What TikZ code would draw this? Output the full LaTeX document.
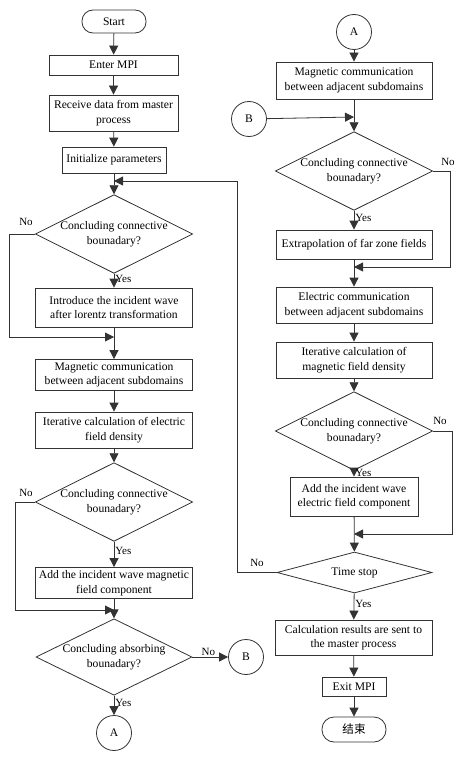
\documentclass[tikz,border=0pt]{standalone}
\usepackage{fontspec}
\setmainfont{Liberation Serif}
\newfontfamily\cjk{Noto Sans CJK SC}
\usetikzlibrary{shapes.geometric,arrows.meta}
\begin{document}
\begin{tikzpicture}[x=1pt,y=-1pt,
  font=\fontsize{11.6}{14.5}\selectfont,
  every node/.style={text=black},
  ln/.style={draw=black!80, line width=0.8pt},
  arr/.style={ln, -{Triangle[length=9pt,width=9pt]}},
  term/.style={ln, rectangle, rounded corners=11pt, inner sep=0pt, align=center},
  proc/.style={ln, rectangle, inner sep=0pt, align=center},
  dec/.style={ln, diamond, inner sep=0pt, aspect=2, align=center},
  conn/.style={ln, circle, inner sep=0pt, minimum size=35pt},
  lab/.style={inner sep=1pt, font=\fontsize{11}{12}\selectfont}
]
\useasboundingbox (0,0) rectangle (459,757);
% left column
\node[term, minimum width=64pt, minimum height=23pt] (start) at (114,21.5) {Start};
\node[proc, minimum width=129pt, minimum height=20pt] (mpi) at (113.5,65) {Enter MPI};
\node[proc, minimum width=129pt, minimum height=36pt] (recv) at (113.5,113) {Receive data from master\\process};
\node[proc, minimum width=104pt, minimum height=26pt] (init) at (114,160) {Initialize parameters};
\node[dec, minimum width=156pt, minimum height=68pt] (d1) at (114,234) {Concluding connective\\bounadary?};
\node[proc, minimum width=157pt, minimum height=39pt] (intro) at (114,307.5) {Introduce the incident wave\\after lorentz transformation};
\node[proc, minimum width=157pt, minimum height=31pt] (mag1) at (114,375) {Magnetic communication\\between adjacent subdomains};
\node[proc, minimum width=157pt, minimum height=36pt] (iter1) at (114,430) {Iterative calculation of electric\\field density};
\node[dec, minimum width=156pt, minimum height=67pt] (d2) at (114,502) {Concluding connective\\bounadary?};
\node[proc, minimum width=157pt, minimum height=31pt] (addm) at (114,583) {Add the incident wave magnetic\\field component};
\node[dec, minimum width=156pt, minimum height=68pt] (d3) at (114,657) {Concluding absorbing\\bounadary?};
\node[conn] (A1) at (114,733) {A};
\node[conn] (B1) at (246,657) {B};
% right column
\node[conn] (A2) at (354,32) {A};
\node[proc, minimum width=156pt, minimum height=37pt] (mag2) at (354,80.5) {Magnetic communication\\between adjacent subdomains};
\node[conn] (B2) at (249,119) {B};
\node[dec, minimum width=156pt, minimum height=68pt] (d4) at (354,171) {Concluding connective\\bounadary?};
\node[proc, minimum width=156pt, minimum height=29pt] (extra) at (354,244.5) {Extrapolation of far zone fields};
\node[proc, minimum width=156pt, minimum height=36pt] (elec) at (354,305) {Electric communication\\between adjacent subdomains};
\node[proc, minimum width=156pt, minimum height=36pt] (iter2) at (354,360) {Iterative calculation of\\magnetic field density};
\node[dec, minimum width=155pt, minimum height=68pt] (d5) at (354,431) {Concluding connective\\bounadary?};
\node[proc, minimum width=128pt, minimum height=39pt] (adde) at (354,496.5) {Add the incident wave\\electric field component};
\node[dec, minimum width=155pt, minimum height=41pt] (ts) at (354.5,572.5) {Time stop};
\node[proc, minimum width=157pt, minimum height=35pt] (calc) at (353.5,637.5) {Calculation results are sent to\\the master process};
\node[proc, minimum width=64pt, minimum height=19pt] (exit) at (354,686.5) {Exit MPI};
\node[term, minimum width=64pt, minimum height=25pt, rounded corners=12pt] (end) at (354,729.5) {\cjk 结束};
% junction coordinates
\coordinate (j0) at (114,181);
\coordinate (j1) at (114,337);
\coordinate (j2) at (114,610);
\coordinate (j3) at (354,117);
\coordinate (j4) at (354,267);
\coordinate (j5) at (354,534);
% left connectors
\draw[arr] (start) -- (mpi);
\draw[arr] (mpi) -- (recv);
\draw[arr] (recv) -- (init);
\draw[arr] (init) -- (d1);
\draw[arr] (d1) -- node[lab, right, pos=0.4] {Yes} (intro);
\draw[arr] (d1.west) -- (9,234) |- (j1);
\node[lab] (no1) at (26,222) {No};
\draw[arr] (intro) -- (mag1);
\draw[arr] (mag1) -- (iter1);
\draw[arr] (iter1) -- (d2);
\draw[arr] (d2) -- node[lab, right, pos=0.35] {Yes} (addm);
\draw[arr] (d2.west) -- (15,502) |- (j2);
\node[lab] (no2) at (26,493) {No};
\draw[arr] (addm) -- (d3);
\draw[arr] (d3) -- node[lab, right, pos=0.4] {Yes} (A1);
\draw[arr] (d3.east) -- node[lab, above, pos=0.45] {No} (B1);
% right connectors
\draw[arr] (A2) -- (mag2);
\draw[arr] (mag2) -- (d4);
\draw[arr] (B2) -- (j3);
\draw[arr] (d4) -- node[lab, right, pos=0.4] {Yes} (extra);
\draw[arr] (d4.east) -- (450,171) |- (j4);
\node[lab] (no4) at (448,162) {No};
\draw[arr] (extra) -- (elec);
\draw[arr] (elec) -- (iter2);
\draw[arr] (iter2) -- (d5);
\draw[arr] (d5) -- node[lab, right, pos=0.3] {Yes} (adde);
\draw[arr] (d5.east) -- (452,431) |- (j5);
\node[lab] (no5) at (440,421) {No};
\draw[arr] (adde) -- (ts);
\draw[arr] (ts) -- node[lab, right, pos=0.4] {Yes} (calc);
\draw[arr] (ts.west) -- (237,572.5) |- (j0);
\node[lab] (no6) at (257,563) {No};
\draw[arr] (calc) -- (exit);
\draw[arr] (exit) -- (end);
\end{tikzpicture}
\end{document}
